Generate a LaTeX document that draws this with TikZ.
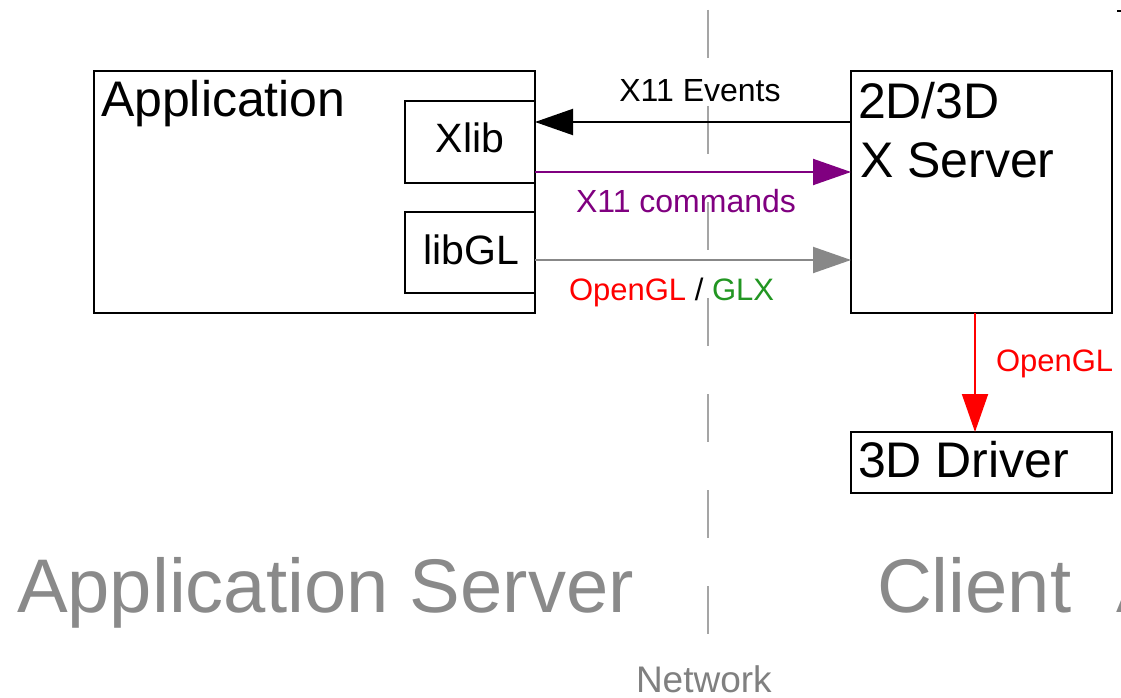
\documentclass[tikz,border=0pt]{standalone}
\usepackage{fontspec}
\setmainfont{Liberation Sans}
\usetikzlibrary{arrows.meta}
\definecolor{glxgreen}{RGB}{34,150,34}
\definecolor{cmdpurple}{RGB}{128,0,128}
\definecolor{arrgray}{RGB}{136,136,136}
\definecolor{biggray}{RGB}{138,138,138}
\definecolor{netgray}{RGB}{128,128,128}
\definecolor{dashgray}{RGB}{165,165,165}
\newcommand\fsz[1]{\fontsize{#1}{#1}\selectfont}
\begin{document}
\begin{tikzpicture}[x=1pt,y=-1pt,
  box/.style={draw=black,line width=2pt,inner sep=0pt,outer sep=0pt,anchor=north west},
  lbl/.style={inner sep=0pt,outer sep=0pt},
  tip/.style={-{Triangle[length=38pt,width=26pt]}},
  conn/.style={line width=2pt}]
\useasboundingbox (0,0) rectangle (1121,698);
\clip (0,0) rectangle (1121,698);
\fill[white] (0,0) rectangle (1121,698);
% network separator
\draw[dashgray,line width=2pt,dash pattern=on 48pt off 48pt] (708,10) -- (708,636);
% boxes
\node[box,minimum width=441pt,minimum height=242pt] (app) at (94,71) {};
\node[box,minimum width=130pt,minimum height=82pt] (xlib) at (405,101) {};
\node[box,minimum width=130pt,minimum height=81pt] (libgl) at (405,212) {};
\node[box,minimum width=261pt,minimum height=242pt] (xsrv) at (851,71) {};
\node[box,minimum width=261pt,minimum height=61pt] (drv) at (851,432) {};
% box texts
\node[lbl,anchor=base west] (tapp) at (101,117) {\fsz{50}Application};
\node[lbl,anchor=base] (txlib) at (470,153) {\fsz{41}Xlib};
\node[lbl,anchor=base] (tlibgl) at (471,264) {\fsz{41}libGL};
\node[lbl,anchor=base west] (t2d) at (858,118) {\fsz{50}2D/3D};
\node[lbl,anchor=base west] (txs) at (860,177) {\fsz{50}X Server};
\node[lbl,anchor=base west] (tdrv) at (858,477) {\fsz{50}3D Driver};
% connectors
\coordinate (yev) at (0,122);
\coordinate (ycmd) at (0,172);
\coordinate (ygl) at (0,260);
\coordinate (xdown) at (975,0);
\draw[conn,tip] (xsrv.west |- yev) -- (xlib.east |- yev);
\draw[conn,cmdpurple,tip] (xlib.east |- ycmd) -- (xsrv.west |- ycmd);
\draw[conn,arrgray,tip] (libgl.east |- ygl) -- (xsrv.west |- ygl);
\draw[conn,red,tip] (xsrv.south -| xdown) -- (drv.north -| xdown);
% connector labels
\node[lbl,anchor=base] (lev) at (700,102) {\fsz{32}X11 Events};
\node[lbl,anchor=base,text=cmdpurple] (lcmd) at (686,212) {\fsz{32}X11 commands};
\node[lbl,anchor=base west] (lgl) at (569,300) {\fsz{31}{\color{red}OpenGL} / {\color{glxgreen}GLX}};
\node[lbl,anchor=base west,text=red] (ldown) at (996,371) {\fsz{31}OpenGL};
% region labels
\node[lbl,anchor=base west,text=biggray] (lapps) at (17,612) {\fsz{76}Application Server};
\node[lbl,anchor=base west,text=biggray] (lcli) at (877,612) {\fsz{76}Client};
\node[lbl,anchor=base west,text=biggray] (lclia) at (1116,612) {\fsz{76}A};
\node[lbl,anchor=base west,text=netgray] (lnet) at (636,692) {\fsz{37}Network};
% tiny mark at top right
\draw[line width=2pt] (1117,11) -- (1121,11);
\end{tikzpicture}
\end{document}
